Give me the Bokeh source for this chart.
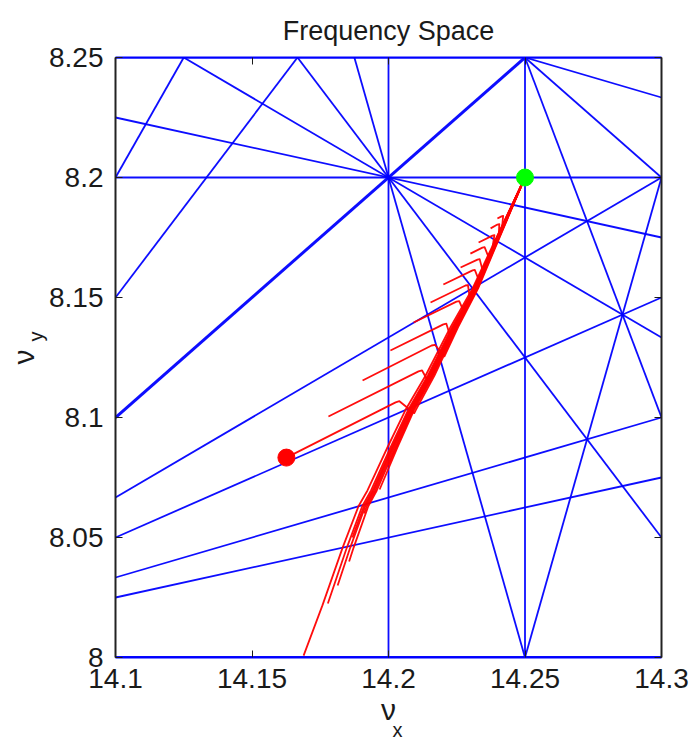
from math import gcd

from bokeh.plotting import figure
from bokeh.models import (Range1d, LinearAxis, FixedTicker, Title,
                          CustomJSTickFormatter, ColumnDataSource)
from bokeh.embed import file_html
from bokeh.resources import INLINE

# ---- tune window and ticks ----
nx_lim = (14.1, 14.3)
ny_lim = (8.0, 8.25)
x_ticks = [14.1, 14.15, 14.2, 14.25, 14.3]
x_tick_text = ["14.1", "14.15", "14.2", "14.25", "14.3"]
y_ticks = [8.0, 8.05, 8.1, 8.15, 8.2, 8.25]
y_tick_text = ["8", "8.05", "8.1", "8.15", "8.2", "8.25"]

# ---- resonance lines  m*nx + n*ny = p  (orders 1..5 inside the window) ----
res_m = [0, 0, 1, 0, 2, -1, 4, 0, 0, 3, 1, 2, 2, -1, 5, 0, 0, 4, 4, 3, 3, 2, 2, 1, -1]
res_n = [1, 2, -1, 3, -1, 2, 0, 4, 4, 1, 3, 2, -2, 3, 0, 5, 5, 1, -1, 2, -2, 3, -3, 4, 4]
res_p = [8, 16, 6, 24, 20, 2, 57, 32, 33, 51, 39, 45, 12, 10, 71, 40, 41, 65, 49, 59, 26, 53, 4, 47, 18]

# ---- tune track (main branch, from the working point downwards) ----
track_nx = [14.2500, 14.2379, 14.2308, 14.2227, 14.2136, 14.2062,
            14.1996, 14.1923, 14.1890, 14.1832, 14.1758, 14.1689]
track_ny = [8.2000, 8.1710, 8.1538, 8.1376, 8.1175, 8.1031,
            8.0875, 8.0696, 8.0630, 8.0458, 8.0217, 8.0008]

# branches leaving the track: join point, crest, bend point, free end
hook_join_nx = [14.2056, 14.2122, 14.2172, 14.2212, 14.2258, 14.2292,
                14.2320, 14.2339, 14.2360, 14.2380, 14.2399, 14.2414]
hook_join_ny = [8.1018, 8.1147, 8.1255, 8.1343, 8.1438, 8.1505,
                8.1568, 8.1613, 8.1663, 8.1713, 8.1759, 8.1793]
hook_crest_nx = [14.2040, 14.2123, 14.2170, 14.2212, 14.2259, 14.2291,
                 14.2316, 14.2334, 14.2352, 14.2388, 14.2406, 14.2420]
hook_crest_ny = [8.1068, 8.1196, 8.1303, 8.1391, 8.1485, 8.1552,
                 8.1615, 8.1660, 8.1710, 8.1760, 8.1806, 8.1840]
hook_bend_nx = [14.2026, 14.2110, 14.2158, 14.2201, 14.2249, 14.2282,
                14.2308, 14.2326, 14.2344, 14.2381, 14.2399, 14.2414]
hook_bend_ny = [8.1063, 8.1192, 8.1300, 8.1388, 8.1483, 8.1550,
                8.1613, 8.1658, 8.1708, 8.1758, 8.1804, 8.1838]
hook_tail_nx = [14.1626, 14.1780, 14.1905, 14.2007, 14.2092, 14.2154,
                14.2201, 14.2264, 14.2300, 14.2330, 14.2374, 14.2399]
hook_tail_ny = [8.0833, 8.1004, 8.1154, 8.1279, 8.1396, 8.1479,
                8.1554, 8.1625, 8.1683, 8.1729, 8.1788, 8.1829]
hook_spread = [0.0078, 0.0058, 0.0088, 0.0039, 0.0068, 0.0020,
               0.0058, 0.0029, 0.0049, 0.0010, 0.0039, 0.0020]

# strands running down the track to different end points
strand_end_nx = [14.1689, 14.1760, 14.1783, 14.1814, 14.1846, 14.1880, 14.1925, 14.1965]
strand_end_ny = [8.0008, 8.0225, 8.0300, 8.0400, 8.0500, 8.0600, 8.0700, 8.0800]
strand_spread = [0.0000, 0.0020, 0.0036, 0.0052, 0.0029, 0.0044, 0.0065, 0.0058]

FONT = "Liberation Sans"
TXT = "#1a1a1a"
BLUE = "#0000ff"

p = figure(width=695, height=738, x_range=Range1d(*nx_lim), y_range=Range1d(*ny_lim),
           output_backend="svg", toolbar_location=None,
           min_border_left=115, min_border_right=34, min_border_top=57, min_border_bottom=81,
           background_fill_color="white", border_fill_color="white", outline_line_color=None)
p.title = Title(text="Frequency Space", align="center", text_font=FONT,
                text_font_size="27px", text_font_style="normal", text_color=TXT, standoff=24)
p.xgrid.visible = False
p.ygrid.visible = False


def label_formatter(vals, texts):
    return CustomJSTickFormatter(args=dict(tick_vals=vals, tick_texts=texts), code="""
        const i = tick_vals.findIndex(t => Math.abs(t - tick) < 1e-9);
        return i >= 0 ? tick_texts[i] : '';
    """)


def style_axis(ax, ticks, line_color):
    ax.ticker = FixedTicker(ticks=ticks)
    ax.major_tick_in = 7
    ax.major_tick_out = 0
    ax.minor_tick_in = 0
    ax.minor_tick_out = 0
    ax.major_tick_line_color = TXT
    ax.major_tick_line_width = 1
    ax.axis_line_color = line_color
    ax.axis_line_width = 2
    ax.major_label_text_font = FONT
    ax.major_label_text_font_size = "28px"
    ax.major_label_text_color = TXT
    ax.axis_label_text_font = FONT
    ax.axis_label_text_font_style = "normal"
    ax.axis_label_text_color = TXT


xa = p.xaxis[0]
style_axis(xa, x_ticks, BLUE)
xa.formatter = label_formatter(x_ticks, x_tick_text)
xa.major_label_standoff = 11
xa.axis_label = "ν"
xa.axis_label_text_font_size = "30px"
xa.axis_label_standoff = 2

ya = p.yaxis[0]
style_axis(ya, y_ticks, "#222222")
ya.formatter = label_formatter(y_ticks, y_tick_text)
ya.major_label_standoff = 12

top_ax = LinearAxis()
style_axis(top_ax, x_ticks, BLUE)
top_ax.formatter = CustomJSTickFormatter(code="return '';")
top_ax.major_label_text_font_size = "0px"
top_ax.major_label_standoff = 0
p.add_layout(top_ax, "above")

right_ax = LinearAxis()
style_axis(right_ax, y_ticks, "#222222")
right_ax.formatter = CustomJSTickFormatter(code="return '';")
right_ax.major_label_text_font_size = "0px"
right_ax.major_label_standoff = 0
p.add_layout(right_ax, "right")

# vertical-axis symbol: subscript next to the tick labels, letter outside it
p.add_layout(Title(text="y", align="left", offset=316, standoff=0, text_font=FONT,
                   text_font_size="20px", text_font_style="normal", text_color=TXT), "left")
p.add_layout(Title(text="ν", align="left", offset=293, standoff=-35, text_font=FONT,
                   text_font_size="30px", text_font_style="normal", text_color=TXT), "left")
# subscript of the horizontal-axis symbol
p.add_layout(Title(text="x", align="left", offset=277, standoff=-23, text_font=FONT,
                   text_font_size="20px", text_font_style="normal", text_color=TXT), "below")


# ---- resonance lines clipped to the window ----
def clip(m, n, c):
    pts = []
    eps = 1e-9
    if n != 0:
        for x in nx_lim:
            y = (c - m * x) / n
            if ny_lim[0] - eps <= y <= ny_lim[1] + eps:
                pts.append((x, y))
    if m != 0:
        for y in ny_lim:
            x = (c - n * y) / m
            if nx_lim[0] - eps <= x <= nx_lim[1] + eps:
                pts.append((x, y))
    if len(pts) < 2:
        return None
    return max(((a, b) for a in pts for b in pts),
               key=lambda ab: (ab[0][0] - ab[1][0]) ** 2 + (ab[0][1] - ab[1][1]) ** 2)


def canon(m, n, c):
    g = gcd(gcd(abs(m), abs(n)), abs(c))
    m, n, c = m // g, n // g, c // g
    if m < 0 or (m == 0 and n < 0):
        m, n, c = -m, -n, -c
    return (m, n, c)


mult = {}
for m, n, c in zip(res_m, res_n, res_p):
    k = canon(m, n, c)
    mult[k] = mult.get(k, 0) + 1

seg = dict(x0=[], y0=[], x1=[], y1=[], w=[])
done = set()
for m, n, c in zip(res_m, res_n, res_p):
    k = canon(m, n, c)
    if k in done:
        continue
    done.add(k)
    ends = clip(m, n, c)
    if ends is None:
        continue
    (ax_, ay_), (bx_, by_) = ends
    seg["x0"].append(ax_)
    seg["y0"].append(ay_)
    seg["x1"].append(bx_)
    seg["y1"].append(by_)
    seg["w"].append(min(1.8 + 1.2 * (mult[k] - 1), 3.2))

p.segment(x0="x0", y0="y0", x1="x1", y1="y1", line_width="w", line_color=BLUE,
          line_alpha=0.95, source=ColumnDataSource(seg))

# ---- tune trajectories ----
ny0, ny1 = track_ny[0], track_ny[-1]


def fan(nx, ny, spread):
    return nx + spread * (ny0 - ny) / (ny0 - ny1)


xs, ys = [], []
for j in range(len(hook_tail_nx)):
    cx, cy = [], []
    for tx, ty in zip(track_nx, track_ny):
        if ty > hook_join_ny[j]:
            cx.append(fan(tx, ty, hook_spread[j]))
            cy.append(ty)
    cx += [fan(hook_join_nx[j], hook_join_ny[j], hook_spread[j]),
           hook_crest_nx[j], hook_bend_nx[j], hook_tail_nx[j]]
    cy += [hook_join_ny[j], hook_crest_ny[j], hook_bend_ny[j], hook_tail_ny[j]]
    xs.append(cx)
    ys.append(cy)

for j in range(len(strand_end_nx)):
    cx, cy = [], []
    for tx, ty in zip(track_nx, track_ny):
        if ty > strand_end_ny[j]:
            cx.append(fan(tx, ty, strand_spread[j]))
            cy.append(ty)
    cx.append(fan(strand_end_nx[j], strand_end_ny[j], strand_spread[j]))
    cy.append(strand_end_ny[j])
    xs.append(cx)
    ys.append(cy)

p.multi_line(xs, ys, line_color="#ff0000", line_width=1.8, line_alpha=0.95,
             line_join="round")

# start and end markers
p.scatter([hook_tail_nx[0]], [hook_tail_ny[0]], size=17, color="#ff0000")
p.scatter([track_nx[0]], [track_ny[0]], size=17, color="#00ff00")

open("out.html", "w").write(file_html(p, INLINE))
